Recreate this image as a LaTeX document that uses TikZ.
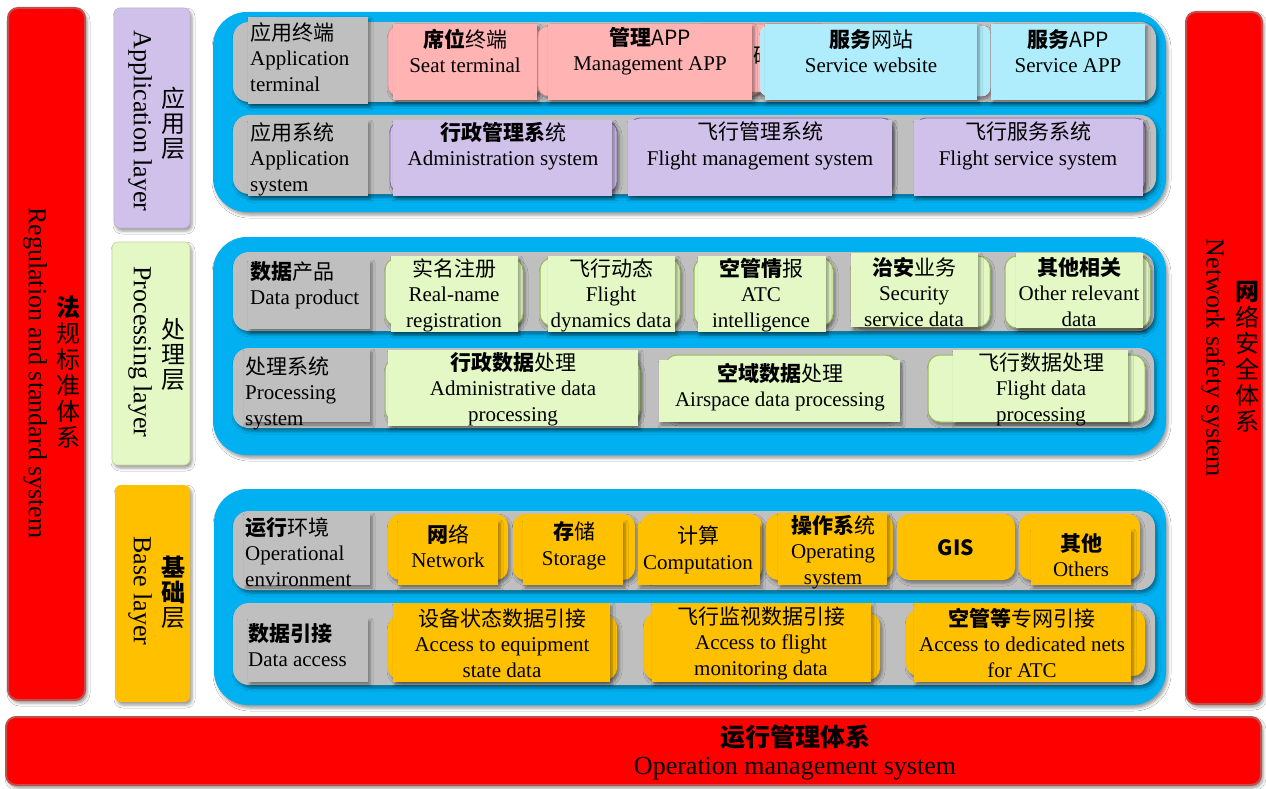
\documentclass[tikz,border=0pt]{standalone}
\usepackage{fontspec}
\setmainfont{Liberation Serif}
\newfontfamily\cjk{Noto Sans CJK SC}
\usetikzlibrary{shadows.blur}
\definecolor{rd}{HTML}{FF0000}
\definecolor{rdb}{HTML}{C0504D}
\definecolor{lav}{HTML}{D0C1EA}
\definecolor{lavb}{HTML}{8064A2}
\definecolor{grn}{HTML}{E3F8C4}
\definecolor{grnb}{HTML}{9BBB59}
\definecolor{org}{HTML}{FFC000}
\definecolor{blu}{HTML}{00B0F0}
\definecolor{gry}{HTML}{BFBFBF}
\definecolor{pnk}{HTML}{FFB3B3}
\definecolor{cyn}{HTML}{AFEDFC}
\newcommand\zb[1]{{\cjk\bfseries #1}}
\newcommand\zr[1]{{\cjk #1}}
\newcommand\bx[6]{\node[#6, minimum width={#4-#2}, minimum height={#5-#3}] (#1) at (#2,#3) {};}
\tikzset{
  sh/.style={blur shadow={shadow xshift=2pt,shadow yshift=-3pt,shadow blur radius=3pt,shadow opacity=40}},
  bb/.style={inner sep=0pt, outer sep=0pt, anchor=north west, sh},
  redbar/.style={bb, fill=rd, draw=rdb, line width=2pt, rounded corners=10pt},
  lavbar/.style={bb, fill=lav, draw=lavb!50, line width=0.6pt, rounded corners=6pt},
  grnbar/.style={bb, fill=grn, draw=grnb!60, line width=0.6pt, rounded corners=6pt},
  orgbar/.style={bb, fill=org, rounded corners=6pt},
  cont/.style={bb, fill=blu, rounded corners=34pt},
  row/.style={bb, fill=gry, rounded corners=16pt},
  lab/.style={bb, fill=gry},
  pnkR/.style={bb, fill=pnk, draw=rdb!60, line width=0.8pt, rounded corners=10pt},
  pnkS/.style={bb, fill=pnk},
  cynR/.style={bb, fill=cyn, draw=cyn!70!black!30, line width=0.6pt, rounded corners=8pt},
  cynS/.style={bb, fill=cyn},
  lavR/.style={bb, fill=lav, draw=lavb, line width=0.8pt, rounded corners=10pt},
  lavS/.style={bb, fill=lav},
  grnR/.style={bb, fill=grn, draw=grnb, line width=1pt, rounded corners=12pt},
  grnS/.style={bb, fill=grn},
  orgR/.style={bb, fill=org, rounded corners=12pt},
  orgS/.style={bb, fill=org},
  tx/.style={align=center, font=\fontsize{21}{25.5}\selectfont, inner sep=0pt},
  ltx/.style={tx, align=left, anchor=west},
  vt/.style={align=center, font=\fontsize{24}{25}\selectfont, inner sep=0pt},
  rt/.style={rotate=-90, font=\fontsize{26}{30}\selectfont, inner sep=0pt}
}
\begin{document}
\begin{tikzpicture}[x=1pt,y=-1pt]
\useasboundingbox[fill=white] (0,0) rectangle (1266,789);
% side bars
\bx{regB}{8}{8}{85}{700}{redbar}
\bx{netB}{1186}{12}{1262}{704}{redbar}
\bx{opB}{6}{717}{1261}{785}{redbar}
\node[rt] (regE) at (35,373) {Regulation and standard system};
\node[vt, font=\fontsize{24}{26}\selectfont] (regZ) at (68,372) {\zb{法}\\\zr{规}\\\zr{标}\\\zr{准}\\\zr{体}\\\zr{系}};
\node[rt] (netE) at (1213,358) {Network safety system};
\node[vt, font=\fontsize{24}{26}\selectfont] (netZ) at (1247,357) {\zb{网}\\\zr{络}\\\zr{安}\\\zr{全}\\\zr{体}\\\zr{系}};
\node[tx, font=\fontsize{25}{30}\selectfont] (opZ) at (795,737) {\zb{运行管理体系}};
\node[tx, font=\fontsize{26}{30}\selectfont] (opE) at (795,769) {Operation management system};
% layer bars
\bx{appL}{114}{8}{190}{228}{lavbar}
\bx{proL}{112}{242}{190}{465}{grnbar}
\bx{basL}{115}{485}{190}{702}{orgbar}
\node[rt] (appE) at (140,121) {Application layer};
\node[vt] (appZ) at (173,123) {\zr{应}\\\zr{用}\\\zr{层}};
\node[rt] (proE) at (140,352) {Processing layer};
\node[vt] (proZ) at (173,355) {\zr{处}\\\zr{理}\\\zr{层}};
\node[rt] (basE) at (140,591) {Base layer};
\node[vt] (basZ) at (173,592) {\zb{基}\\\zb{础}\\\zr{层}};
% containers
\bx{appC}{213}{12}{1166}{212}{cont}
\bx{proC}{213}{237}{1166}{455}{cont}
\bx{basC}{214}{489}{1166}{705}{cont}
% rows
\bx{r1}{233}{22}{1156}{102}{row}
\bx{r2}{233}{115}{1156}{194}{row}
\bx{r3}{233}{252}{1154}{331}{row}
\bx{r4}{233}{348}{1154}{428}{row}
\bx{r5}{233}{511}{1155}{590}{row}
\bx{r6}{233}{603}{1155}{685}{row}
% row labels
\bx{l1}{248}{17}{368}{104}{lab}
\bx{l2}{248}{120}{368}{196}{lab}
\bx{l3}{248}{260}{370}{329}{lab}
\bx{l4}{244}{349}{370}{422}{lab}
\bx{l5}{244}{513}{370}{585}{lab}
\bx{l6}{248}{618}{368}{682}{lab}
\node[ltx] (l1T) at (250,57) {\zr{应用终端}\\Application\\terminal};
\node[ltx] (l2T) at (250,159) {\zr{应用系统}\\Application\\system};
\node[ltx] (l3T) at (250,285) {\zb{数据}\zr{产品}\\Data product};
\node[ltx] (l4T) at (245,393) {\zr{处理系统}\\Processing\\system};
\node[ltx] (l5T) at (245,552) {\zb{运行}\zr{环境}\\Operational\\environment};
\node[ltx] (l6T) at (248,645) {\zb{数据引接}\\Data access};
% application terminal row
\bx{seatR}{388}{26}{540}{96}{pnkR}
\bx{seat}{393}{24}{537}{100}{pnkS}
\bx{mgmtR}{538}{26}{760}{96}{pnkR}
\bx{hidR}{690}{24}{830}{92}{pnkR}
\node[tx] (hidT) at (764,56) {\zr{码}};
\bx{mgmt}{548}{24}{752}{100}{pnkS}
\bx{webR}{760}{26}{990}{96}{cynR}
\bx{web}{765}{24}{977}{100}{cynS}
\bx{sapp}{991}{24}{1145}{100}{cynS}
\node[tx] (seatT) at (465,51) {\zb{席位}\zr{终端}\\Seat terminal};
\node[tx] (mgmtT) at (650,51) {\zb{管理}\zr{APP}\\Management APP};
\node[tx] (webT) at (871,51) {\zb{服务}\zr{网站}\\Service website};
\node[tx] (sappT) at (1068,51) {\zb{服务}\zr{APP}\\Service APP};
% application system row
\bx{admR}{390}{122}{617}{192}{lavR}
\bx{adm}{393}{120}{612}{196}{lavS}
\bx{fmsR}{630}{118}{892}{192}{lavR}
\bx{fms}{628}{120}{892}{196}{lavS}
\bx{fssR}{916}{118}{1145}{192}{lavR}
\bx{fss}{914}{120}{1143}{196}{lavS}
\node[tx] (admT) at (503,146) {\zb{行政管理系}\zr{统}\\Administration system};
\node[tx] (fmsT) at (760,146) {\zr{飞行管理系统}\\Flight management system};
\node[tx] (fssT) at (1028,146) {\zr{飞行服务系统}\\Flight service system};
% data product row
\bx{rnR}{385}{258}{523}{326}{grnR}
\bx{rn}{391}{256}{518}{332}{grnS}
\bx{fdR}{540}{258}{680}{326}{grnR}
\bx{fd}{548}{256}{675}{332}{grnS}
\bx{atR}{694}{258}{833}{326}{grnR}
\bx{at}{698}{256}{826}{332}{grnS}
\bx{ssR}{851}{256}{990}{327}{grnR}
\bx{ss}{851}{253}{978}{327}{grnS}
\bx{orR}{1005}{256}{1150}{328}{grnR}
\bx{or}{1016}{253}{1143}{328}{grnS}
\node[tx] (rnT) at (454,295) {\zr{实名注册}\\Real-name\\registration};
\node[tx] (fdT) at (611,295) {\zr{飞行动态}\\Flight\\dynamics data};
\node[tx] (atT) at (761,295) {\zb{空管情}\zr{报}\\ATC\\intelligence};
\node[tx] (ssT) at (914,292) {\zb{治安}\zr{业务}\\Security\\service data};
\node[tx] (orT) at (1079,292) {\zb{其他相关}\\Other relevant\\data};
% processing system row
\bx{adpR}{385}{358}{640}{422}{grnR}
\bx{adp}{388}{350}{638}{426}{grnS}
\bx{aspR}{665}{355}{897}{420}{grnR}
\bx{asp}{659}{360}{900}{422}{grnS}
\bx{fdpR}{928}{355}{1145}{422}{grnR}
\bx{fdp}{953}{350}{1128}{422}{grnS}
\node[tx] (adpT) at (513,389) {\zb{行政数据}\zr{处理}\\Administrative data\\processing};
\node[tx] (aspT) at (780,387) {\zb{空域数据}\zr{处理}\\Airspace data processing};
\node[tx] (fdpT) at (1041,389) {\zr{飞行数据处理}\\Flight data\\processing};
% operational environment row
\bx{netR}{388}{514}{508}{580}{orgR}
\bx{net}{398}{520}{498}{585}{orgS}
\bx{stoR}{513}{514}{635}{580}{orgR}
\bx{sto}{523}{520}{623}{585}{orgS}
\bx{comR}{640}{514}{762}{580}{orgR}
\bx{com}{638}{523}{760}{585}{orgS}
\bx{opsR}{766}{514}{893}{580}{orgR}
\bx{ops}{778}{513}{887}{585}{orgS}
\bx{gisR}{897}{514}{1015}{580}{orgR}
\bx{othR}{1019}{514}{1140}{580}{orgR}
\bx{oth}{1031}{529}{1131}{585}{orgS}
\node[tx] (netT) at (448,546) {\zb{网}\zr{络}\\Network};
\node[tx] (stoT) at (574,546) {\zb{存}\zr{储}\\Storage};
\node[tx] (comT) at (698,550) {\zr{计算}\\Computation};
\node[tx] (opsT) at (833,552) {\zb{操作系}\zr{统}\\Operating\\system};
\node[tx] (gisT) at (956,548) {\zb{GIS}};
\node[tx] (othT) at (1081,555) {\zb{其他}\\Others};
% data access row
\bx{eqR}{388}{615}{617}{680}{orgR}
\bx{eq}{393}{603}{610}{682}{orgS}
\bx{fmdR}{644}{613}{880}{680}{orgR}
\bx{fmd}{652}{603}{871}{682}{orgS}
\bx{dnR}{906}{610}{1145}{676}{orgR}
\bx{dn}{914}{603}{1131}{682}{orgS}
\node[tx] (eqT) at (502,643) {\zr{设备状态数据引接}\\Access to equipment\\state data};
\node[tx] (fmdT) at (761,643) {\zr{飞行监视数据引接}\\Access to flight\\monitoring data};
\node[tx] (dnT) at (1022,643) {\zb{空管等}\zr{专网引接}\\Access to dedicated nets\\for ATC};
\end{tikzpicture}
\end{document}
